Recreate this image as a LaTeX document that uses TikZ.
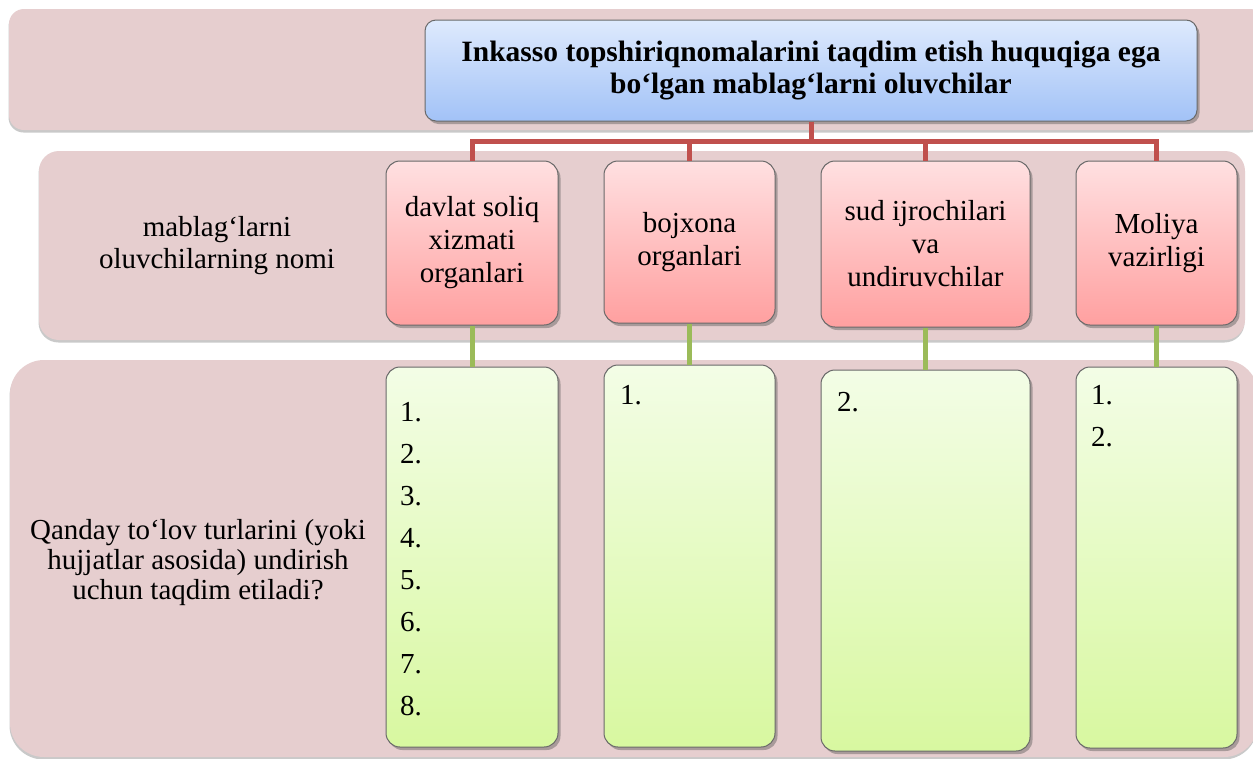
\documentclass[tikz,border=0pt]{standalone}
\usepackage{fontspec}
\setmainfont{Liberation Serif}
\usetikzlibrary{shadows}
\definecolor{bandc}{RGB}{230,206,207}
\definecolor{titletop}{RGB}{222,234,253}
\definecolor{titlebot}{RGB}{162,194,247}
\definecolor{pinktop}{RGB}{255,224,225}
\definecolor{pinkbot}{RGB}{255,160,160}
\definecolor{greentop}{RGB}{243,253,230}
\definecolor{greenbot}{RGB}{216,248,160}
\definecolor{redln}{RGB}{192,80,77}
\definecolor{greenln}{RGB}{155,187,89}
\definecolor{edgec}{RGB}{105,105,105}
\begin{document}
\begin{tikzpicture}[x=1pt,y=-1pt,
  band/.style={fill=bandc, draw=none, rounded corners=15pt, inner sep=0pt,
    drop shadow={shadow xshift=-0.5pt, shadow yshift=-2.5pt, opacity=.35, fill=black!60}},
  boxbase/.style={draw=edgec, line width=1pt, rounded corners=14pt, inner sep=0pt, align=center,
    font=\fontsize{29}{33}\selectfont,
    drop shadow={shadow xshift=2.5pt, shadow yshift=-3pt, opacity=.4, fill=black!70}},
  titlebox/.style={boxbase, rounded corners=11pt, top color=titletop, bottom color=titlebot,
    font=\fontsize{29.5}{32}\selectfont\bfseries},
  pinkbox/.style={boxbase, top color=pinktop, bottom color=pinkbot},
  greenbox/.style={boxbase, top color=greentop, bottom color=greenbot},
  lbl/.style={align=center, inner sep=0pt, font=\fontsize{29}{32}\selectfont},
  num/.style={inner sep=0pt, anchor=base west, font=\fontsize{29}{32}\selectfont},
  redline/.style={draw=redln, line width=5pt},
  greenline/.style={draw=greenln, line width=5pt}
]
\useasboundingbox (0,0) rectangle (1253,758);
\fill[white] (0,0) rectangle (1253,758);
% bands
\node[band, minimum width=1256pt, minimum height=121pt] (b1) at (637,69.5) {};
\node[band, rounded corners=20pt, minimum width=1206pt, minimum height=189pt] (b2) at (642,245.5) {};
\node[band, rounded corners=34pt, minimum width=1248pt, minimum height=397pt] (b3) at (634,558.5) {};
% title
\node[titlebox, minimum width=772pt, minimum height=101pt] (title) at (811,70.5)
  {Inkasso topshiriqnomalarini taqdim etish huquqiga ega\\bo‘lgan mablag‘larni oluvchilar};
% pink boxes
\node[pinkbox, minimum width=172pt, minimum height=164pt] (p1) at (472,243) {davlat soliq\\xizmati\\organlari};
\node[pinkbox, minimum width=171pt, minimum height=162pt] (p2) at (689.5,242) {bojxona\\organlari};
\node[pinkbox, minimum width=209pt, minimum height=166pt] (p3) at (925.5,244) {sud ijrochilari\\va\\undiruvchilar};
\node[pinkbox, minimum width=161pt, minimum height=164pt] (p4) at (1156.5,243) {Moliya\\vazirligi};
% green boxes
\node[greenbox, minimum width=172pt, minimum height=380pt] (g1) at (472,557) {};
\node[greenbox, minimum width=171pt, minimum height=382pt] (g2) at (689.5,556) {};
\node[greenbox, minimum width=209pt, minimum height=381pt] (g3) at (925.5,560.5) {};
\node[greenbox, minimum width=161pt, minimum height=381pt] (g4) at (1156.5,557.5) {};
% side labels
\node[lbl] (l2) at (217,246) {mablag‘larni\\oluvchilarning nomi};
\node[lbl, font=\fontsize{29}{30}\selectfont] (l3) at (198,563) {Qanday to‘lov turlarini (yoki\\hujjatlar asosida) undirish\\uchun taqdim etiladi?};
% numbers
\foreach \i in {1,...,8} {
  \node[num] (na\i) at (400,{421.5+42*(\i-1)}) {\i.};
}
\node[num] (nb1) at (620,404.5) {1.};
\node[num] (nc2) at (837,411.5) {2.};
\node[num] (nd1) at (1091,404.5) {1.};
\node[num] (nd2) at (1091,446.5) {2.};
% connectors
\draw[redline] (title.south) -- ++(0,20) coordinate (hub);
\draw[redline] (hub) -| (p1.north);
\draw[redline] (hub) -| (p2.north);
\draw[redline] (hub) -| (p3.north);
\draw[redline] (hub) -| (p4.north);
\draw[greenline] (p1.south) -- (g1.north);
\draw[greenline] (p2.south) -- (g2.north);
\draw[greenline] (p3.south) -- (g3.north);
\draw[greenline] (p4.south) -- (g4.north);
\end{tikzpicture}
\end{document}
